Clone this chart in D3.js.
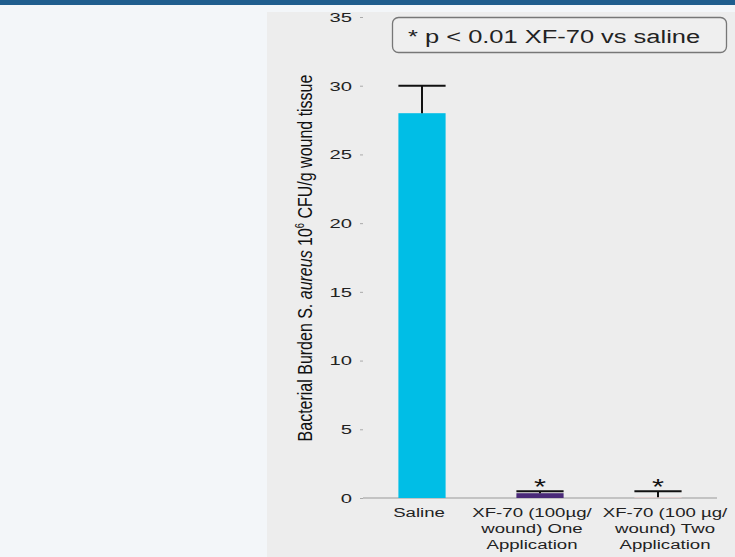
<!DOCTYPE html>
<html>
<head>
<meta charset="UTF-8">
<style>
  body { margin: 0; padding: 0; background: #f3f6f9; overflow: hidden; }
  svg { display: block; font-family: 'Liberation Sans', Arial, sans-serif; }
</style>
</head>
<body>
<svg id="chart" width="735" height="557"></svg>
<script src="https://cdn.jsdelivr.net/npm/d3@7"></script>
<script>
// data
const groups = ["Saline", "XF-70 One", "XF-70 Two"];
const groupLabels = [
  ["Saline"],
  ["XF-70 (100\u00b5g/", "wound) One", "Application"],
  ["XF-70 (100 \u00b5g/", "wound) Two", "Application"]
];
const means = [28, 0.35, 0.05];
const errors = [2, 0.15, 0.45];
const barColors = ["#00bee6", "#4a2a78", "#f2d4d4"];
const starred = [false, true, true];
const yTicks = [0, 5, 10, 15, 20, 25, 30, 35];
// the source labels sit a little off the bar centres
const labelNudge = [-3, -8, 7];

const svg = d3.select("#chart");

// page frame
svg.append("rect").attr("x", 0).attr("y", 0).attr("width", 735).attr("height", 557).attr("fill", "#f3f6f9");
svg.append("rect").attr("x", 0).attr("y", 0).attr("width", 735).attr("height", 5).attr("fill", "#1f5e8e");
svg.append("rect").attr("x", 267).attr("y", 12).attr("width", 468).attr("height", 545).attr("fill", "#ededed");

const y = d3.scaleLinear().domain([0, 35]).range([498, 17]);
const x = d3.scaleBand().domain(groups).range([363, 717]).paddingInner(0.6).paddingOuter(0.3);

// y axis ticks (text is stretched wide like the source figure)
const yAxis = svg.append("g").attr("transform", "translate(363,0)")
  .call(d3.axisLeft(y).tickValues(yTicks).tickSize(3));
yAxis.select(".domain").remove();
yAxis.selectAll(".tick line").attr("stroke", "#aaa").attr("x1", -3).attr("x2", 0);
yAxis.selectAll(".tick text")
  .attr("x", -7.3)
  .attr("transform", "scale(1.5,1)")
  .attr("font-size", 13.5).attr("fill", "#222")
  .attr("font-family", "'Liberation Sans', Arial, sans-serif");

// x axis baseline
svg.append("line").attr("x1", 363).attr("x2", 717).attr("y1", y(0)).attr("y2", y(0))
  .attr("stroke", "#999").attr("stroke-width", 1.2);

// bars
svg.selectAll("rect.bar").data(groups).enter().append("rect")
  .attr("class", "bar")
  .attr("x", d => x(d))
  .attr("width", x.bandwidth())
  .attr("y", (d, i) => y(means[i]))
  .attr("height", (d, i) => y(0) - y(means[i]))
  .attr("fill", (d, i) => barColors[i]);

// error bars
const eb = svg.selectAll("g.err").data(groups).enter().append("g").attr("class", "err");
eb.append("line")
  .attr("x1", d => x(d) + x.bandwidth() / 2).attr("x2", d => x(d) + x.bandwidth() / 2)
  .attr("y1", (d, i) => y(means[i])).attr("y2", (d, i) => y(means[i] + errors[i]))
  .attr("stroke", "#111").attr("stroke-width", 2);
eb.append("line")
  .attr("x1", d => x(d)).attr("x2", d => x(d) + x.bandwidth())
  .attr("y1", (d, i) => y(means[i] + errors[i])).attr("y2", (d, i) => y(means[i] + errors[i]))
  .attr("stroke", "#111").attr("stroke-width", 2);

// significance stars
svg.selectAll("text.star").data(groups.filter((d, i) => starred[i])).enter().append("text")
  .attr("class", "star")
  .attr("transform", d => `translate(${x(d) + x.bandwidth() / 2},494) scale(1.4,1)`)
  .attr("text-anchor", "middle")
  .attr("font-size", 22)
  .attr("fill", "#111")
  .text("*");

// category labels
groups.forEach((g, i) => {
  const t = svg.append("text")
    .attr("transform", `translate(${x(g) + x.bandwidth() / 2 + labelNudge[i]},517) scale(1.38,1)`)
    .attr("text-anchor", "middle")
    .attr("font-size", 13.5)
    .attr("fill", "#222");
  groupLabels[i].forEach((line, j) => {
    t.append("tspan").attr("x", 0).attr("dy", j === 0 ? 0 : 16).text(line);
  });
});

// y axis title
const yt = svg.append("text")
  .attr("transform", "translate(312,258) rotate(-90) scale(0.78,1)")
  .attr("text-anchor", "middle")
  .attr("font-size", 20.5)
  .attr("fill", "#111");
yt.append("tspan").text("Bacterial Burden S. ");
yt.append("tspan").attr("font-style", "italic").text("aureus");
yt.append("tspan").text(" 10");
yt.append("tspan").attr("font-size", 12).attr("dy", -8).text("6");
yt.append("tspan").attr("dy", 8).text(" CFU/g wound tissue");

// legend box
svg.append("rect").attr("x", 392.5).attr("y", 17.5).attr("width", 334).attr("height", 35)
  .attr("rx", 6).attr("fill", "#efefef").attr("stroke", "#777").attr("stroke-width", 1.3);
svg.append("text").attr("transform", "translate(408,43) scale(1.34,1)")
  .attr("font-size", 19).attr("fill", "#222")
  .text("* p < 0.01 XF-70 vs saline");
</script>
</body>
</html>
